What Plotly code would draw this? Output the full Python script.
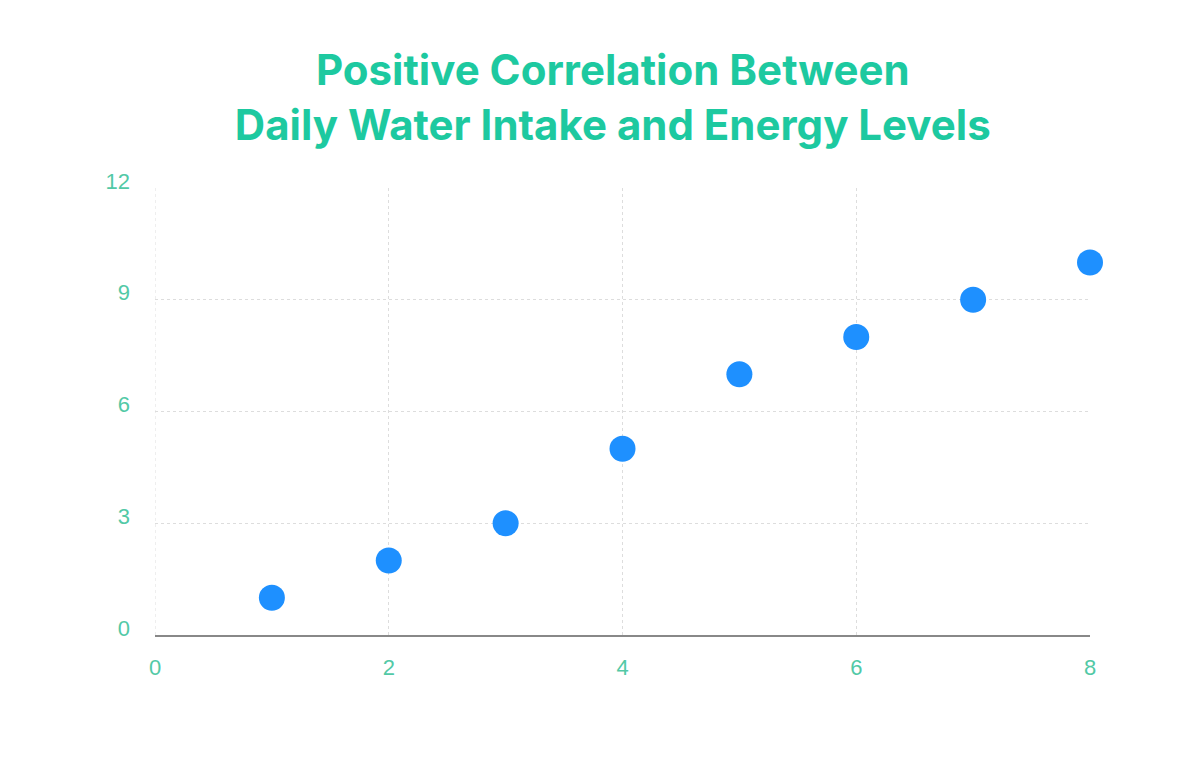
import plotly.graph_objects as go

water_intake = [1, 2, 3, 4, 5, 6, 7, 8]
energy_levels = [1, 2, 3, 5, 7, 8, 9, 10]
x_ticks = [0, 2, 4, 6, 8]
y_ticks = [0, 3, 6, 9, 12]

tick_color = "#52C9A6"
title_color = "#1DC9A0"

fig = go.Figure(go.Scatter(
    x=water_intake, y=energy_levels, mode="markers", cliponaxis=False,
    marker=dict(color="#1E90FF", size=26, line=dict(width=0)),
))

fig.update_layout(
    width=1200, height=771,
    paper_bgcolor="white", plot_bgcolor="white",
    margin=dict(l=147, r=118, t=180, b=144),
    showlegend=False,
    title=dict(
        text="Positive Correlation Between<br>Daily Water Intake and Energy Levels",
        x=0.504, xanchor="center", y=0.90, yanchor="top",
        font=dict(family="Inter", size=42, color=title_color, weight="bold"),
    ),
    font=dict(family="Liberation Sans, Arial", size=22, color=tick_color),
)
fig.update_xaxes(
    range=[0, 8], tickvals=x_ticks, showgrid=True, gridcolor="#DDDDDD",
    griddash="dot", gridwidth=1, zeroline=False, showline=True,
    linecolor="#888888", linewidth=1.5, ticks="", ticklabelstandoff=12,
    tickfont=dict(size=22, color=tick_color),
)
fig.update_yaxes(
    range=[0, 12], tickvals=y_ticks, showgrid=True, gridcolor="#DDDDDD",
    griddash="dot", gridwidth=1, zeroline=False, showline=False,
    ticks="", ticklabelstandoff=24, ticklabelshift=-7,
    tickfont=dict(size=22, color=tick_color),
)
fig.add_shape(type="line", xref="x", yref="paper", x0=0, x1=0, y0=0, y1=1,
              line=dict(color="#DDDDDD", width=1, dash="dot"), layer="below")

fig.write_html("out.html")
